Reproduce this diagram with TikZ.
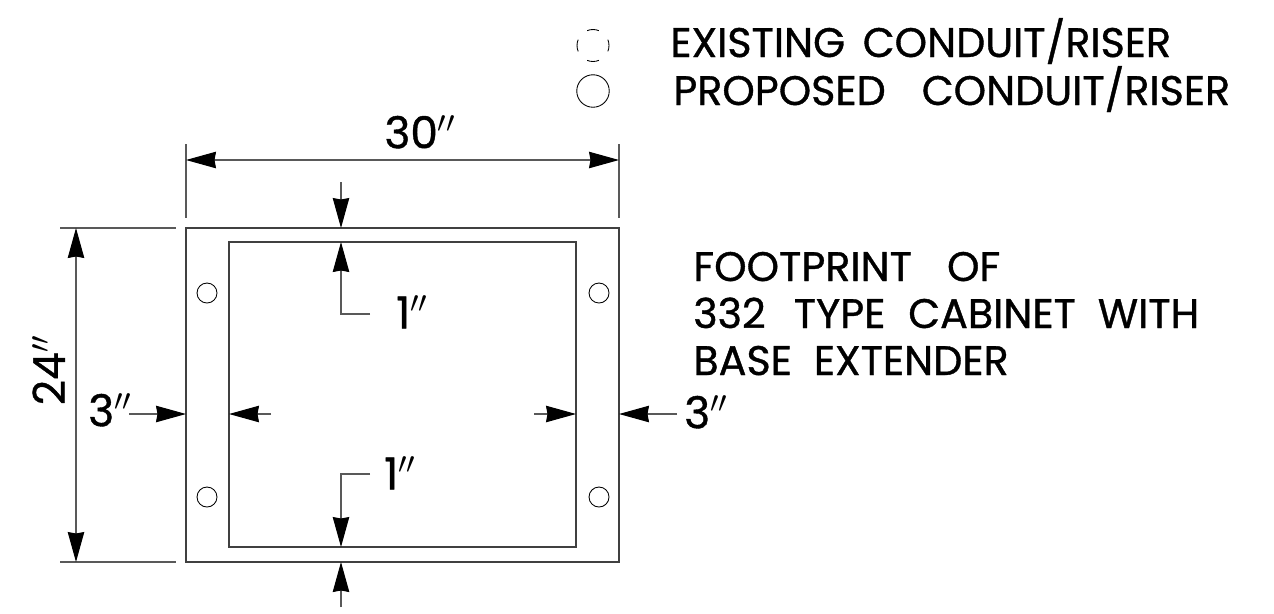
\documentclass[tikz,border=0pt]{standalone}
\usepackage{fontspec}
\setmainfont[FakeBold=0.9]{Poppins}
\usetikzlibrary{arrows.meta}
\begin{document}
\begin{tikzpicture}[
x=0.02cm,y=-0.02cm,
dimline/.style={%
draw=black!65,
line width=0.6pt,
-{Stealth[length=0.6cm,width=0.33cm,inset=0.03cm,color=black]}
},
extline/.style={%
draw=black!65,
line width=0.6pt
},
plate/.style={%
draw=black!75,
line width=0.65pt,
inner sep=0pt
},
hole/.style={%
circle,
draw,
line width=0.5pt,
inner sep=0pt,
minimum size=0.4cm
},
legendtext/.style={%
anchor=base west,
inner sep=0pt,
font=\fontsize{23.5}{23.5}\selectfont
},
dimtext/.style={%
inner sep=0pt,
font=\fontsize{25}{25}\selectfont
}
]
\useasboundingbox(0,0)rectangle(1274,613);
%% Legend
\node[hole,minimum size=0.64cm,dash pattern=on 0.24cm off 0.262cm,dash phase=0.12cm]at(593,45.5)(existing){};
\node[hole,minimum size=0.65cm]at(593,91)(proposed){};
\node[legendtext]at(670,57)(existingtext){EXISTING\hspace{10pt}CONDUIT/RISER};
\node[legendtext]at(673,105)(proposedtext){PROPOSED\hspace{20.5pt}CONDUIT/RISER};
%% Cabinet footprint
\node[plate,minimum width=8.66cm,minimum height=6.68cm]at(402.5,395)(outer){};
\node[plate,minimum width=6.94cm,minimum height=6.10cm]at(402.5,394.5)(inner){};
\node[hole]at(207,293)(holeA){};
\node[hole]at(207,497)(holeB){};
\node[hole]at(599,293)(holeC){};
\node[hole]at(599,497)(holeD){};
\node[legendtext]at(693,281)(noteA){FOOTPRINT\hspace{20pt}OF};
\node[legendtext]at(693,328)(noteB){332\hspace{16pt}TYPE\hspace{13pt}CABINET\hspace{12.5pt}WITH};
\node[legendtext]at(693,375)(noteC){BASE\hspace{12.5pt}EXTENDER};
%% Width
\coordinate(wa)at(186,160);
\coordinate(wb)at(619,160);
\draw[extline](186,144)--(186,218);
\draw[extline](619,144)--(619,218);
\draw[dimline](429,160)--(wa);
\draw[dimline](429,160)--(wb);
\node[dimtext]at(420,132)(wlabel){30$''$};
%% Height
\coordinate(ha)at(76,228);
\coordinate(hb)at(76,562);
\draw[extline](60,228)--(176,228);
\draw[extline](60,562)--(176,562);
\draw[dimline](76,395)--(ha);
\draw[dimline](76,395)--(hb);
\node[dimtext,rotate=90]at(48.5,370)(hlabel){24$''$};
%% Top gap
\coordinate(ta)at(341,182);
\coordinate(tb)at(341,228);
\coordinate(tc)at(370,314);
\coordinate(td)at(341,242);
\draw[dimline](ta)--(tb);
\draw[dimline](tc)-|(td);
\node[dimtext]at(412,312)(tlabel){1$''$};
%% Bottom gap
\coordinate(ba)at(370,474);
\coordinate(bb)at(341,547);
\coordinate(bc)at(341,607);
\coordinate(bd)at(341,562);
\draw[dimline](ba)-|(bb);
\draw[dimline](bc)--(bd);
\node[dimtext]at(400,473)(blabel){1$''$};
%% Side gaps
\coordinate(la)at(129,414);
\coordinate(lb)at(186,414);
\coordinate(lc)at(271,414);
\coordinate(ld)at(229,414);
\draw[dimline](la)--(lb);
\draw[dimline](lc)--(ld);
\node[dimtext]at(110,410)(llabel){3$''$};
\coordinate(ra)at(534,414);
\coordinate(rb)at(576,414);
\coordinate(rc)at(677,414);
\coordinate(rd)at(619,414);
\draw[dimline](ra)--(rb);
\draw[dimline](rc)--(rd);
\node[dimtext]at(706,412)(rlabel){3$''$};
\end{tikzpicture}
\end{document}
